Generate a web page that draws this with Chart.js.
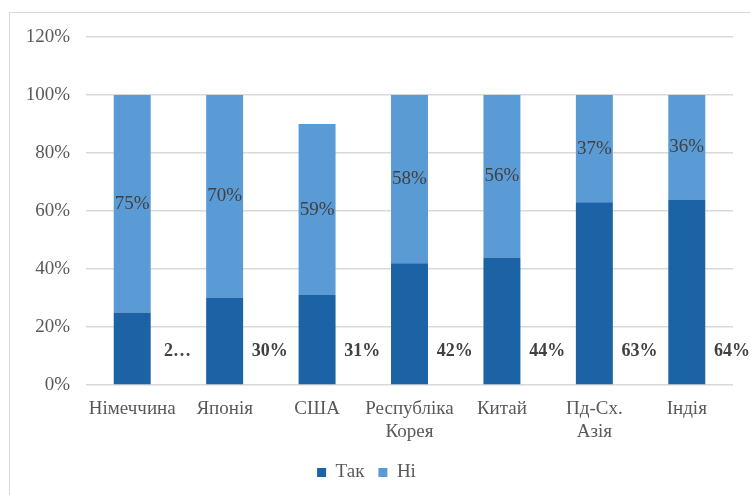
<!DOCTYPE html>
<html>
<head>
<meta charset="utf-8">
<script src="https://cdn.jsdelivr.net/npm/chart.js@4"></script>
<style>
  html, body { margin: 0; padding: 0; background: #fff; overflow: hidden; }
  #frame { position: absolute; left: 9px; top: 12px; width: 760px; height: 500px; border: 1px solid #d9d9d9; }
  #wrap { position: absolute; left: 0; top: 0; width: 750px; height: 495px; }
</style>
</head>
<body>
<div id="frame"></div>
<div id="wrap"><canvas id="chart" width="750" height="495"></canvas></div>
<script>
var categories = [["Німеччина"], ["Японія"], ["США"], ["Республіка", "Корея"], ["Китай"], ["Пд-Сх.", "Азія"], ["Індія"]];
var takValues = [25, 30, 31, 42, 44, 63, 64];
var niValues = [75, 70, 59, 58, 56, 37, 36];
var takLabels = ["2…", "30%", "31%", "42%", "44%", "63%", "64%"];
var niLabels = ["75%", "70%", "59%", "58%", "56%", "37%", "36%"];
var yTicks = [0, 20, 40, 60, 80, 100, 120];

var FONT = "'Liberation Serif', 'Times New Roman', serif";

var labelPlugin = {
  id: "barLabels",
  afterDatasetsDraw: function (chart) {
    var ctx = chart.ctx;
    var xs = chart.scales.x;
    var ys = chart.scales.y;
    var half = (xs.getPixelForValue(1) - xs.getPixelForValue(0)) / 2;
    ctx.save();
    ctx.textAlign = "center";
    ctx.textBaseline = "middle";
    ctx.fillStyle = "#404040";

    chart.getDatasetMeta(1).data.forEach(function (bar, i) {
      ctx.font = "19px " + FONT;
      ctx.fillText(niLabels[i], bar.x, (bar.y + bar.base) / 2);
    });

    // "Так" labels sit to the right of each bar, near the bottom
    chart.getDatasetMeta(0).data.forEach(function (bar, i) {
      ctx.font = "bold 18px " + FONT;
      ctx.fillText(takLabels[i], bar.x + half - 1, ys.getPixelForValue(11.5));
    });
    ctx.restore();
  }
};

new Chart(document.getElementById("chart"), {
  type: "bar",
  data: {
    labels: categories,
    datasets: [
      { label: "Так", data: takValues, backgroundColor: "#1B63A5", barPercentage: 0.8, categoryPercentage: 0.5 },
      { label: "Ні", data: niValues, backgroundColor: "#5B9BD5", barPercentage: 0.8, categoryPercentage: 0.5 }
    ]
  },
  plugins: [labelPlugin],
  options: {
    responsive: false,
    animation: false,
    layout: { padding: { top: 37, right: 17, bottom: 3, left: 0 } },
    plugins: {
      tooltip: { enabled: false },
      legend: {
        position: "bottom",
        labels: {
          boxWidth: 9,
          boxHeight: 9,
          color: "#595959",
          font: { family: FONT, size: 19 },
          padding: 14
        }
      }
    },
    scales: {
      x: {
        stacked: true,
        grid: { display: false },
        border: { display: false },
        ticks: { color: "#595959", font: { family: FONT, size: 19, lineHeight: 1.2 }, padding: 5, maxRotation: 0, autoSkip: false },
        afterFit: function (scale) { scale.height = 64; }
      },
      y: {
        stacked: true,
        min: 0,
        max: 120,
        afterBuildTicks: function (scale) {
          scale.ticks = yTicks.map(function (v) { return { value: v }; });
        },
        grid: { color: "#d9d9d9", lineWidth: 1.5, drawTicks: false },
        border: { display: false },
        ticks: {
          color: "#595959",
          font: { family: FONT, size: 19 },
          padding: 16,
          callback: function (v) { return v + "%"; }
        },
        afterFit: function (scale) { scale.width = 86; }
      }
    }
  }
});
</script>
</body>
</html>
